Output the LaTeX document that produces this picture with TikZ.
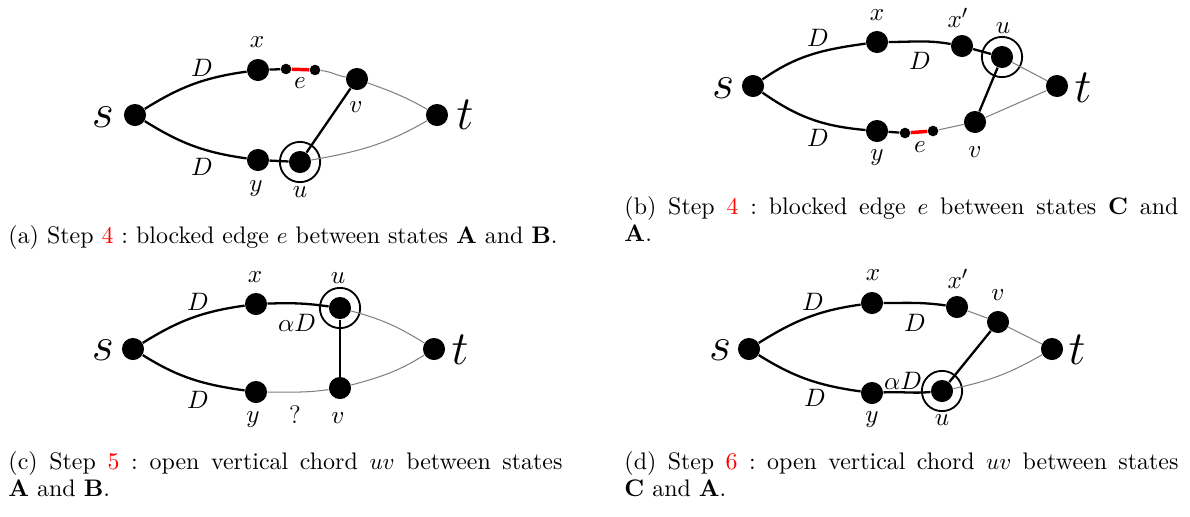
\documentclass[tikz,border=0pt]{standalone}
\usepackage{amsmath,amssymb}
\usepackage{xcolor}
\usepackage{tikz}
\usetikzlibrary{positioning,calc}

\tikzset{
  vert/.style={circle, fill=black, inner sep=0pt, minimum size=9.6pt},
  tinyvert/.style={circle, fill=black, inner sep=0pt, minimum size=4.6pt},
  ring/.style={circle, draw, line width=0.8pt, inner sep=0pt, minimum size=17.5pt},
  solidedge/.style={line width=1pt},
  openedge/.style={gray, line width=0.45pt},
  blocked/.style={red, line width=1.5pt},
  tag/.style={inner sep=0pt, font=\fontsize{11}{13}\selectfont},
  endtag/.style={inner sep=0pt, font=\fontsize{21}{24}\selectfont},
  capbox/.style={anchor=base west, inner sep=0pt, text width=240.8pt, align=justify,
    font=\fontsize{10.4}{11.8}\selectfont}
}

\begin{document}
\begin{tikzpicture}[x=0.4346pt, y=0.4346pt]
  \useasboundingbox (0,0) rectangle (1190,-516);

  % (a) blocked edge on the upper path
  \node[vert] (sa) at (135,-115) {};
  \node[vert] (xa) at (258,-70) {};
  \node[tinyvert] (e1a) at (286,-69) {};
  \node[tinyvert] (e2a) at (315,-70) {};
  \node[vert] (va) at (357,-79) {};
  \node[vert] (ta) at (437,-115) {};
  \node[vert] (ya) at (258,-160) {};
  \node[vert] (ua) at (300,-162) {};
  \node[ring] (ra) at (ua) {};
  \draw[solidedge] (sa) to[out=32, in=188] (xa) -- (e1a);
  \draw[blocked] (e1a) -- (e2a);
  \draw[openedge] (e2a) to[out=-5, in=170] (va) to[out=-20, in=150] (ta);
  \draw[solidedge] (sa) to[out=-32, in=172] (ya) -- (ua);
  \draw[openedge] (ua) to[out=10, in=-150] (ta);
  \draw[solidedge] (ua) -- (va);
  \node[endtag] (sla) at (103,-117) {$s$};
  \node[endtag] (tla) at (465,-115) {$t$};
  \node[tag] (xla) at (257,-42) {$x$};
  \node[tag] (ela) at (300,-83) {$e$};
  \node[tag] (vla) at (356,-107) {$v$};
  \node[tag] (yla) at (256,-189) {$y$};
  \node[tag] (ula) at (300,-192) {$u$};
  \node[tag] (d1a) at (202,-68) {$D$};
  \node[tag] (d2a) at (202,-167) {$D$};
  \node[capbox] (capa) at (8,-243) {(a) Step \textcolor{red}{4} :\ blocked edge $e$ between states \textbf{A} and \textbf{B}.};

  % (b) blocked edge on the lower path
  \node[vert] (sb) at (753,-86) {};
  \node[vert] (xb) at (877,-42) {};
  \node[vert] (xpb) at (962,-46) {};
  \node[vert] (ub) at (1002,-57) {};
  \node[ring] (rb) at (ub) {};
  \node[vert] (tb) at (1057,-86) {};
  \node[vert] (yb) at (877,-131) {};
  \node[tinyvert] (e1b) at (905,-133) {};
  \node[tinyvert] (e2b) at (933,-131) {};
  \node[vert] (vb) at (975,-122) {};
  \draw[solidedge] (sb) to[out=35, in=188] (xb) to[out=0, in=170] (xpb) -- (ub);
  \draw[openedge] (ub) -- (tb);
  \draw[solidedge] (sb) to[out=-35, in=175] (yb) -- (e1b);
  \draw[blocked] (e1b) -- (e2b);
  \draw[openedge] (e2b) -- (vb) -- (tb);
  \draw[solidedge] (ub) -- (vb);
  \node[endtag] (slb) at (723,-88) {$s$};
  \node[endtag] (tlb) at (1083,-88) {$t$};
  \node[tag] (xlb) at (877,-15) {$x$};
  \node[tag] (xplb) at (958,-18) {$x'$};
  \node[tag] (ulb) at (1003,-28) {$u$};
  \node[tag] (ylb) at (877,-158) {$y$};
  \node[tag] (elb) at (920,-147) {$e$};
  \node[tag] (vlb) at (975,-152) {$v$};
  \node[tag] (d1b) at (818,-38) {$D$};
  \node[tag] (d2b) at (920,-61) {$D$};
  \node[tag] (d3b) at (818,-138) {$D$};
  \node[capbox] (capb) at (624,-214) {(b) Step \textcolor{red}{4} :\ blocked edge $e$ between states \textbf{C} and\linebreak \textbf{A}.};

  % (c) vertical chord uv
  \node[vert] (sc) at (133,-349) {};
  \node[vert] (xc) at (256,-304) {};
  \node[vert] (uc) at (340,-308) {};
  \node[ring] (rc) at (uc) {};
  \node[vert] (tc) at (434,-349) {};
  \node[vert] (yc) at (256,-392) {};
  \node[vert] (vc) at (340,-388) {};
  \draw[solidedge] (sc) to[out=32, in=188] (xc) to[out=2, in=172] (uc);
  \draw[openedge] (uc) to[out=-15, in=148] (tc);
  \draw[solidedge] (sc) to[out=-32, in=172] (yc);
  \draw[openedge] (yc) to[out=0, in=188] (vc) to[out=15, in=-148] (tc);
  \draw[solidedge] (uc) -- (vc);
  \node[endtag] (slc) at (103,-350) {$s$};
  \node[endtag] (tlc) at (460,-350) {$t$};
  \node[tag] (xlc) at (255,-277) {$x$};
  \node[tag] (ulc) at (338,-278) {$u$};
  \node[tag] (alc) at (297,-323) {$\alpha D$};
  \node[tag] (d1c) at (198,-302) {$D$};
  \node[tag] (d2c) at (198,-400) {$D$};
  \node[tag] (ylc) at (253,-420) {$y$};
  \node[tag] (qlc) at (295,-415) {?};
  \node[tag] (vlc) at (338,-418) {$v$};
  \node[capbox] (capc) at (8,-469) {(c) Step \textcolor{red}{5} :\ open vertical chord $uv$ between states\linebreak \textbf{A} and \textbf{B}.};

  % (d) chord uv from the lower path
  \node[vert] (sd) at (749,-349) {};
  \node[vert] (xd) at (872,-303) {};
  \node[vert] (xpd) at (957,-307) {};
  \node[vert] (vd) at (998,-322) {};
  \node[vert] (td) at (1052,-349) {};
  \node[vert] (yd) at (872,-393) {};
  \node[vert] (ud) at (942,-391) {};
  \node[ring] (rd) at (ud) {};
  \draw[solidedge] (sd) to[out=32, in=188] (xd) to[out=0, in=172] (xpd);
  \draw[openedge] (xpd) -- (vd) -- (td);
  \draw[solidedge] (sd) to[out=-32, in=172] (yd) to[out=3, in=185] (ud);
  \draw[openedge] (ud) to[out=12, in=-150] (td);
  \draw[solidedge] (ud) -- (vd);
  \node[endtag] (sld) at (720,-350) {$s$};
  \node[endtag] (tld) at (1077,-350) {$t$};
  \node[tag] (xld) at (873,-275) {$x$};
  \node[tag] (xpld) at (958,-279) {$x'$};
  \node[tag] (vld) at (998,-295) {$v$};
  \node[tag] (d1d) at (813,-302) {$D$};
  \node[tag] (d2d) at (915,-323) {$D$};
  \node[tag] (d3d) at (815,-398) {$D$};
  \node[tag] (ald) at (903,-381) {$\alpha D$};
  \node[tag] (yld) at (872,-420) {$y$};
  \node[tag] (uld) at (942,-420) {$u$};
  \node[capbox] (capd) at (624,-469) {(d) Step \textcolor{red}{6} :\ open vertical chord $uv$ between states\linebreak \textbf{C} and \textbf{A}.};
\end{tikzpicture}
\end{document}
